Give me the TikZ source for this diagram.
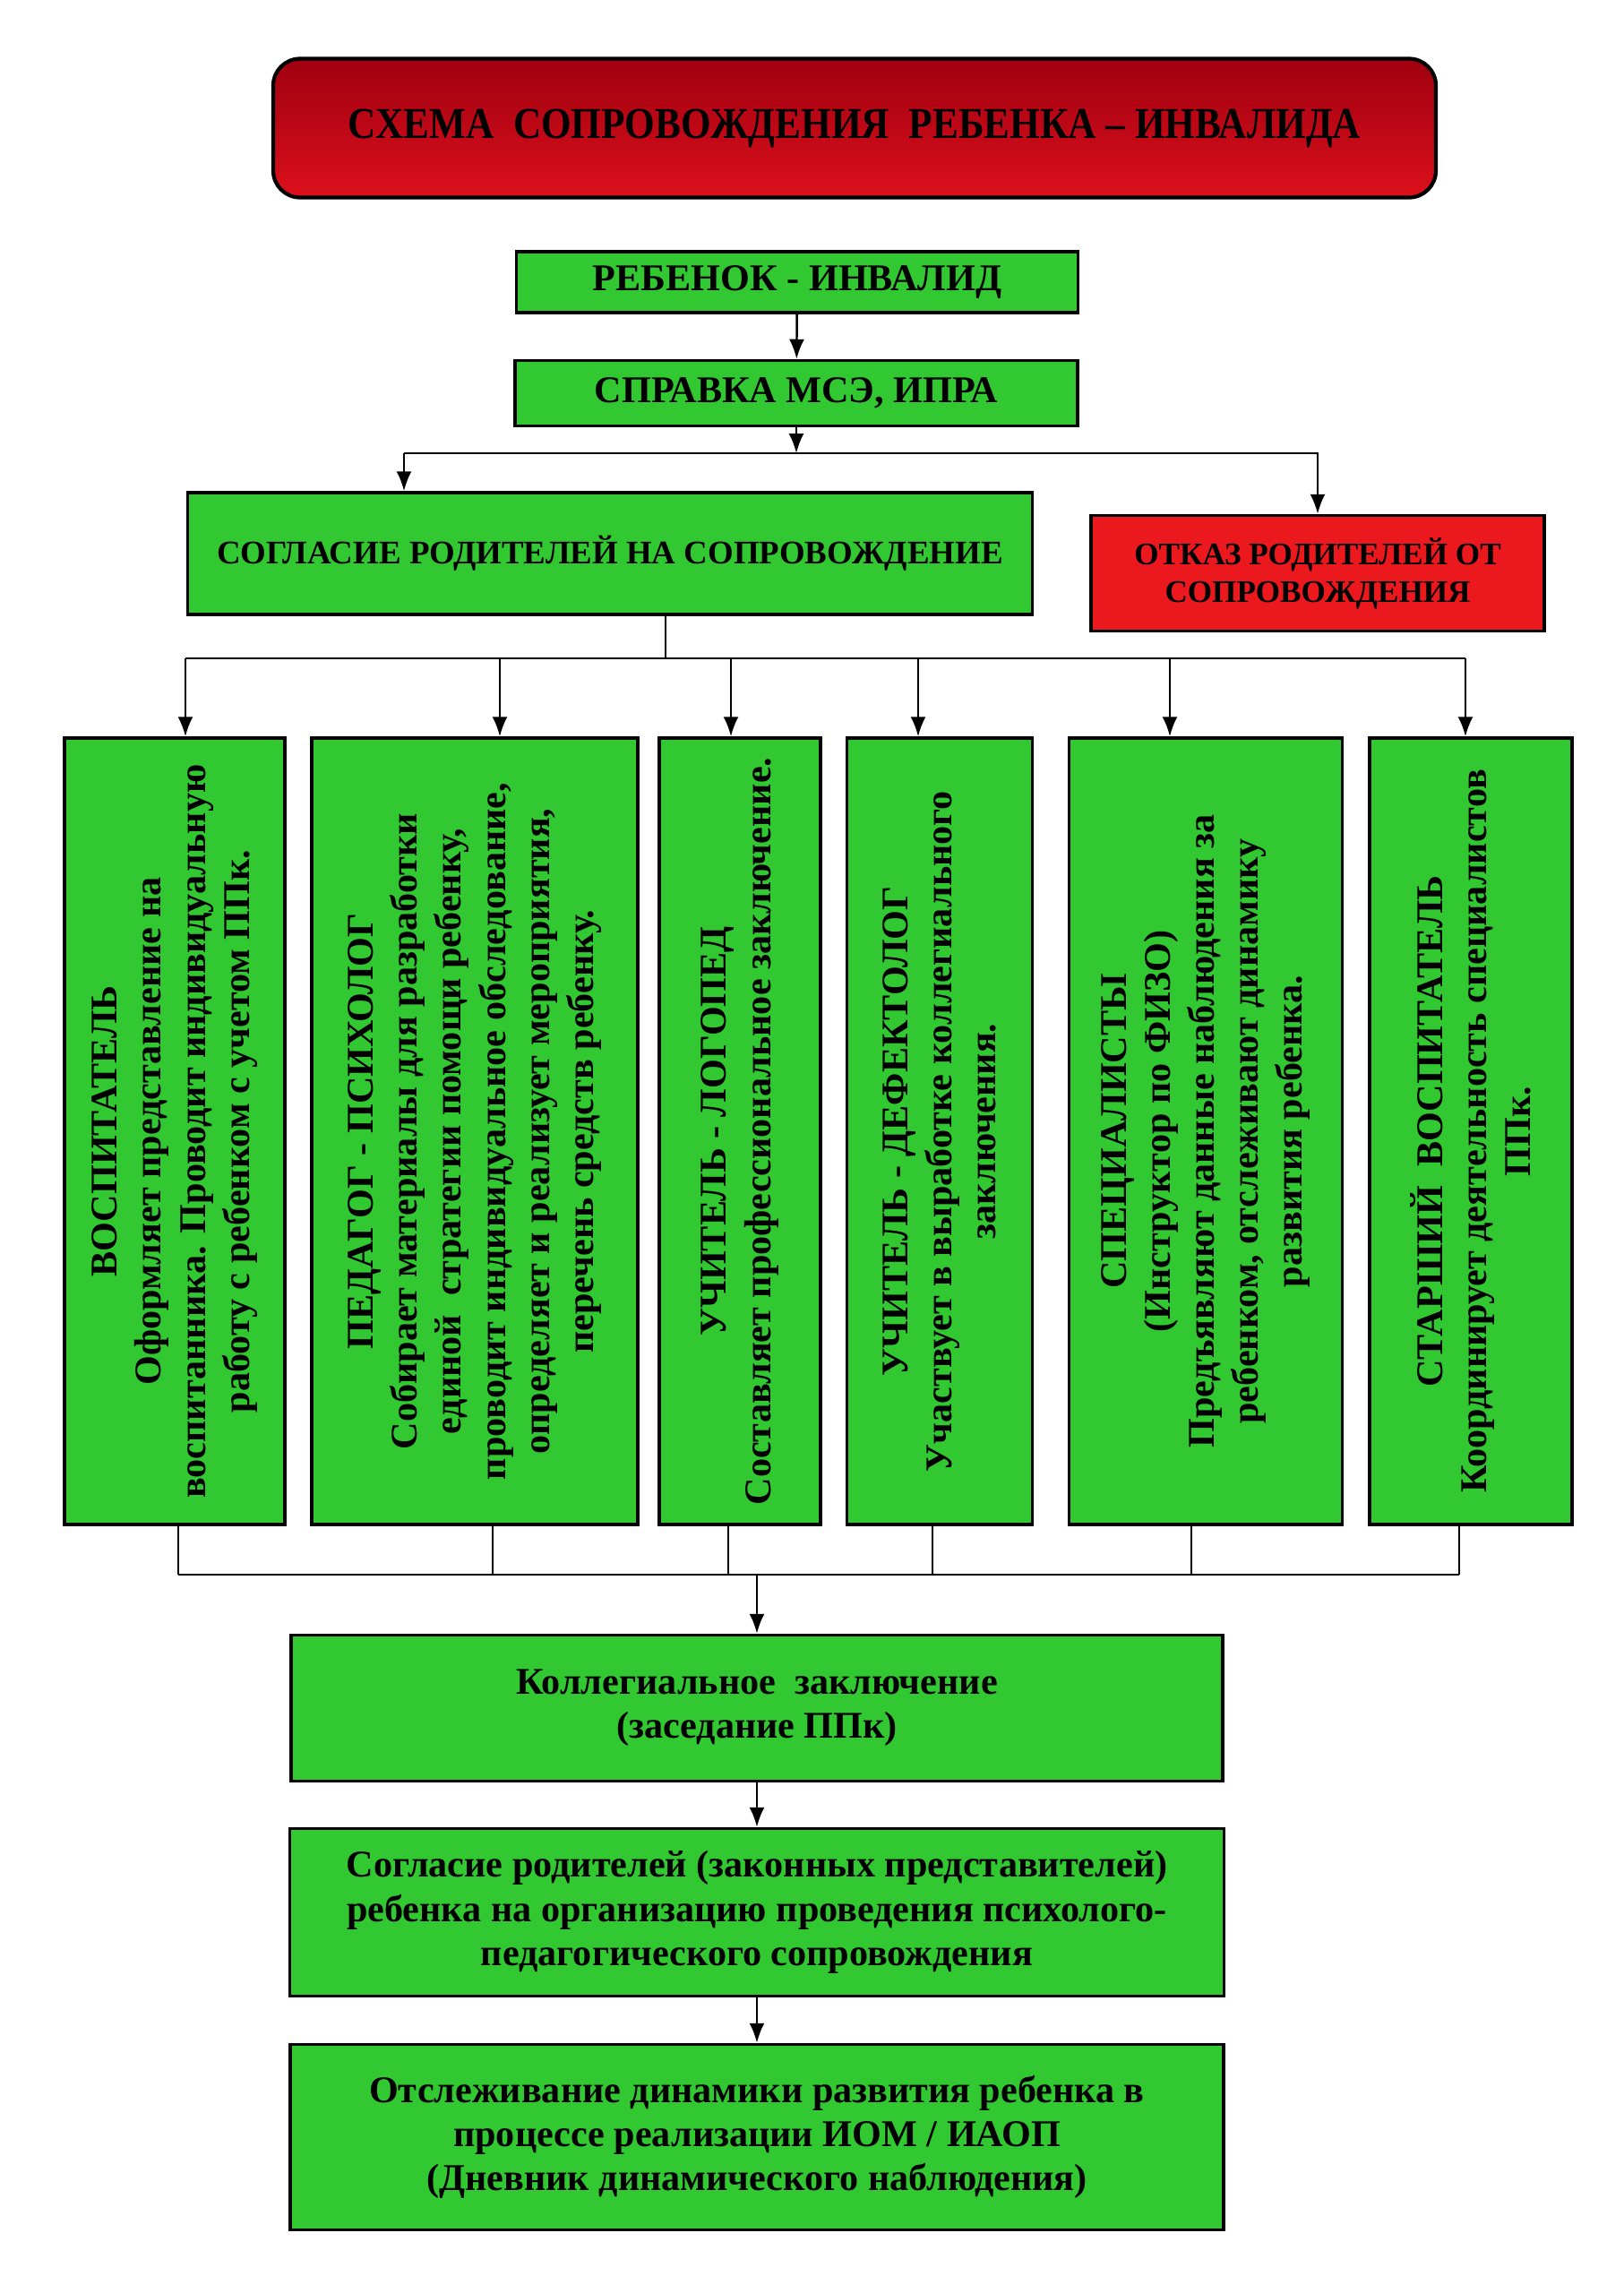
\documentclass[tikz,border=0pt]{standalone}
\usepackage{graphicx}
\usepackage{fontspec}
\setmainfont{Liberation Serif}
\newfontfamily\titlefont[FakeStretch=0.88,Ligatures=TeX]{Liberation Serif}
\usetikzlibrary{arrows.meta}

\definecolor{boxgreen}{RGB}{50,200,50}
\definecolor{titletop}{RGB}{160,0,16}
\definecolor{titlebot}{RGB}{220,16,28}
\definecolor{refusered}{RGB}{235,25,30}

\newcommand{\uptext}[1]{\rotatebox{90}{\parbox{8.5cm}{\centering #1}}}

\begin{document}
\begin{tikzpicture}[>={Latex[length=2.2mm,width=1.7mm]},line width=0.7pt,
  green box/.style={rectangle,draw,line width=1pt,fill=boxgreen,inner sep=0pt,align=center,
    font=\fontsize{12}{14}\selectfont\bfseries},
  role box/.style={green box,minimum height=8.78cm},
  title box/.style={rectangle,draw,line width=1.2pt,rounded corners=0.3cm,top color=titletop,
    bottom color=titlebot,minimum width=12.98cm,minimum height=1.55cm,
    font=\titlefont\fontsize{14}{16}\selectfont\bfseries}]

  \fill[white] (0,0) rectangle (18.12,-25.6);

  % top part
  \node[title box] (title) at (9.54,-1.43) {СХЕМА\ \ СОПРОВОЖДЕНИЯ\ \ РЕБЕНКА – ИНВАЛИДА};
  \node[green box,minimum width=6.27cm,minimum height=0.68cm] (reb) at (8.90,-3.15) {РЕБЕНОК - ИНВАЛИД};
  \node[green box,minimum width=6.28cm,minimum height=0.73cm] (spr) at (8.89,-4.39) {СПРАВКА МСЭ, ИПРА};
  \node[green box,minimum width=9.43cm,minimum height=1.36cm,font=\fontsize{10.5}{12.5}\selectfont\bfseries]
    (sogl) at (6.81,-6.18) {СОГЛАСИЕ РОДИТЕЛЕЙ НА СОПРОВОЖДЕНИЕ};
  \node[green box,fill=refusered,minimum width=5.06cm,minimum height=1.29cm,font=\fontsize{10}{12}\selectfont\bfseries]
    (otkaz) at (14.71,-6.40) {ОТКАЗ РОДИТЕЛЕЙ ОТ\\СОПРОВОЖДЕНИЯ};

  % specialists
  \node[role box,minimum width=2.46cm] (b1) at (1.95,-12.63) {\uptext{ВОСПИТАТЕЛЬ\\Оформляет представление на\\
    воспитанника. Проводит индивидуальную\\работу с ребенком с учетом ППк.}};
  \node[role box,minimum width=3.64cm] (b2) at (5.30,-12.63) {\uptext{ПЕДАГОГ - ПСИХОЛОГ\\Собирает материалы для разработки\\
    единой\ \ стратегии помощи ребенку,\\проводит индивидуальное обследование,\\
    определяет и реализует мероприятия,\\перечень средств ребенку.}};
  \node[role box,minimum width=1.80cm] (b3) at (8.26,-12.63) {\uptext{УЧИТЕЛЬ - ЛОГОПЕД\\
    Составляет профессиональное заключение.}};
  \node[role box,minimum width=2.07cm] (b4) at (10.49,-12.63) {\uptext{УЧИТЕЛЬ - ДЕФЕКТОЛОГ\\
    Участвует в выработке коллегиального\\заключения.}};
  \node[role box,minimum width=3.05cm] (b5) at (13.46,-12.63) {\uptext{СПЕЦИАЛИСТЫ\\(Инструктор по ФИЗО)\\
    Предъявляют данные наблюдения за\\ребенком, отслеживают динамику\\развития ребенка.}};
  \node[role box,minimum width=2.26cm] (b6) at (16.42,-12.63) {\uptext{СТАРШИЙ\ \ ВОСПИТАТЕЛЬ\\
    Координирует деятельность специалистов\\ППк.}};

  % bottom part
  \node[green box,minimum width=10.40cm,minimum height=1.63cm] (kol) at (8.45,-19.07)
    {Коллегиальное\ \ заключение\\(заседание ППк)};
  \node[green box,minimum width=10.43cm,minimum height=1.87cm] (sogl2) at (8.45,-21.35)
    {Согласие родителей (законных представителей)\\ребенка на организацию проведения психолого-\\
    педагогического сопровождения};
  \node[green box,minimum width=10.42cm,minimum height=2.07cm] (otsl) at (8.45,-23.86)
    {Отслеживание динамики развития ребенка в\\процессе реализации ИОМ / ИАОП\\(Дневник динамического наблюдения)};

  % connectors
  \coordinate (split) at (8.89,-5.06);
  \coordinate (sl) at (4.51,-5.06);
  \draw[->] (spr) -- (split);
  \draw (sl) -- (split);
  \draw[->] (sl) -- (sl |- sogl.north);
  \draw[->] (split) -| (otkaz.north);
  \draw[->] (reb) -- (spr);

  \coordinate (dist) at (7.43,-7.35);
  \coordinate (d1) at (2.07,-7.35);
  \coordinate (d2) at (5.58,-7.35);
  \coordinate (d3) at (8.16,-7.35);
  \coordinate (d4) at (10.25,-7.35);
  \coordinate (d5) at (13.06,-7.35);
  \coordinate (d6) at (16.36,-7.35);
  \draw (dist |- sogl.south) -- (dist);
  \draw (d1) -- (d6);

  \coordinate (c1) at (1.99,-17.58);
  \coordinate (c2) at (5.50,-17.58);
  \coordinate (c3) at (8.13,-17.58);
  \coordinate (c4) at (10.41,-17.58);
  \coordinate (c5) at (13.30,-17.58);
  \coordinate (c6) at (16.29,-17.58);
  \draw (c1) -- (c6);

  \foreach \i in {1,...,6} {
    \draw[->] (d\i) -- (d\i |- b\i.north);
    \draw (c\i |- b\i.south) -- (c\i);
  }

  \draw[->] (kol.north |- c1) -- (kol);
  \draw[->] (kol) -- (sogl2);
  \draw[->] (sogl2) -- (otsl);
\end{tikzpicture}
\end{document}
